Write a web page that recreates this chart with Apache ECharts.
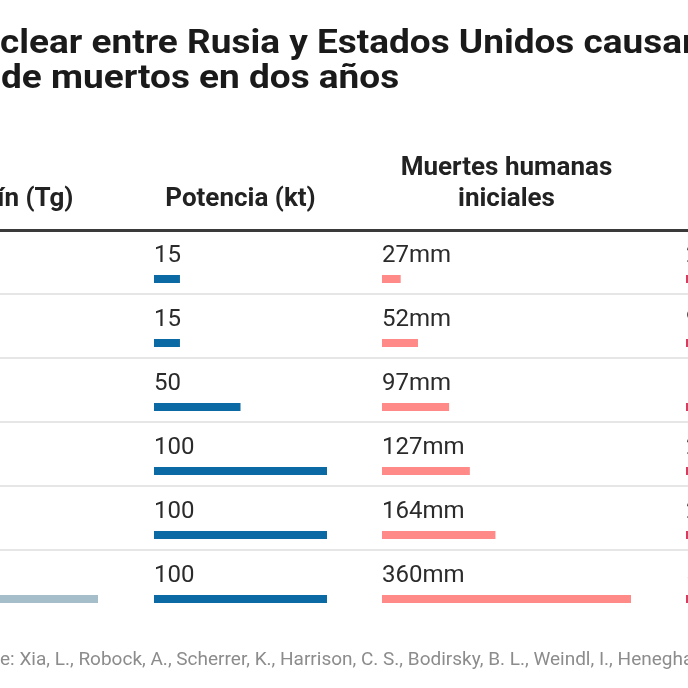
<!DOCTYPE html>
<html>
<head>
<meta charset="utf-8">
<script src="https://cdn.jsdelivr.net/npm/echarts@6/dist/echarts.min.js"></script>
<style>
html, body { margin: 0; padding: 0; background: #fff; }
#chart { width: 688px; height: 688px; }
</style>
</head>
<body>
<div id="chart"></div>
<script>
// escenarios (filas) y valores de cada columna
var escenarios = ['5 Tg', '16 Tg', '27 Tg', '37 Tg', '47 Tg', '150 Tg'];
var hollin = [5, 16, 27, 37, 47, 150];
var potencia = [15, 15, 50, 100, 100, 100];
var muertesIniciales = [27, 52, 97, 127, 164, 360];
var muertesHambruna = [255, 926, 1426, 2081, 2512, 5341];

var titulo1 = 'Una guerra nuclear entre Rusia y Estados Unidos causaría 5.000';
var titulo2 = 'millones de muertos en dos años';
var fuente = 'Fuente: Xia, L., Robock, A., Scherrer, K., Harrison, C. S., Bodirsky, B. L., Weindl, I., Heneghan, R., Jägermeyr, J., Bardeen, C. G. y Toon, O. B. (2022)';

var FUENTE = 'Roboto';

// medir texto para colocar lo que queda recortado a la izquierda
var ctx = document.createElement('canvas').getContext('2d');
function ancho(txt, font) {
	ctx.font = font;
	return ctx.measureText(txt).width;
}

function miles(v) {
	return String(v).replace(/\B(?=(\d{3})+(?!\d))/g, '.');
}

var columnas = [
	{nombre: 'Hollín (Tg)', datos: hollin, color: '#a6bdca', left: -74, width: 172, max: 150, fmt: function (v) { return v; }},
	{nombre: 'Potencia (kt)', datos: potencia, color: '#0b69a3', left: 154, width: 173, max: 100, fmt: function (v) { return v; }},
	{nombre: 'Muertes humanas\niniciales', datos: muertesIniciales, color: '#ff8a87', left: 382, width: 249, max: 360, fmt: function (v) { return v + 'mm'; }},
	{nombre: 'Muertes por\nhambruna', datos: muertesHambruna, color: '#dc3a5c', left: 686, width: 300, max: 5341, fmt: function (v) { return miles(v) + 'mm'; }}
];

var myChart = echarts.init(document.getElementById('chart'));

var grids = [], xAxes = [], yAxes = [], series = [];

// rejilla de fondo: línea de cabecera y separadores de filas
grids.push({left: -10, right: -10, top: 230, height: 384, outerBoundsMode: 'none', containLabel: false});
xAxes.push({
	gridIndex: 0, type: 'value', position: 'top',
	axisLine: {show: true, lineStyle: {color: '#3a3a3a', width: 3}},
	axisTick: {show: false}, axisLabel: {show: false}, splitLine: {show: false}
});
yAxes.push({
	gridIndex: 0, type: 'category', data: escenarios, inverse: true,
	axisLine: {show: false}, axisTick: {show: false}, axisLabel: {show: false},
	splitLine: {show: true, showMinLine: false, showMaxLine: false, lineStyle: {color: '#e6e6e6', width: 2}}
});

columnas.forEach(function (col, i) {
	var g = i + 1;
	grids.push({left: col.left, width: col.width, top: 247, height: 384, outerBoundsMode: 'none', containLabel: false});
	xAxes.push({
		gridIndex: g, type: 'value', position: 'top', min: 0, max: col.max,
		name: col.nombre, nameLocation: 'middle', nameGap: 32,
		nameTextStyle: {
			fontFamily: FUENTE, fontWeight: 'bold', fontSize: 26, color: '#222',
			lineHeight: 31, verticalAlign: 'bottom', align: 'center'
		},
		axisLine: {show: false}, axisTick: {show: false}, axisLabel: {show: false}, splitLine: {show: false}
	});
	yAxes.push({
		gridIndex: g, type: 'category', data: escenarios, inverse: true,
		axisLine: {show: false}, axisTick: {show: false}, axisLabel: {show: false}, splitLine: {show: false}
	});
	series.push({
		type: 'bar',
		xAxisIndex: g,
		yAxisIndex: g,
		data: col.datos,
		barWidth: 8,
		itemStyle: {color: col.color},
		label: {
			show: true,
			position: [0, -19],
			align: 'left',
			verticalAlign: 'middle',
			fontFamily: FUENTE,
			fontSize: 24,
			color: '#2b2b2b',
			formatter: function (p) { return col.fmt(p.value); }
		},
		silent: true
	});
});

var fontTitulo = 'bold 33px ' + FUENTE;
var escalaTitulo = 1.12;
var fontFuente = '19px ' + FUENTE;

myChart.setOption({
	animation: false,
	backgroundColor: '#fff',
	title: [
		{
			text: fuente,
			left: -ancho('Fuent', fontFuente),
			top: 651,
			padding: 0,
			textStyle: {fontFamily: FUENTE, fontWeight: 'normal', fontSize: 19, color: '#8c8c8c'}
		}
	],
	graphic: [
		{
			type: 'text',
			x: -ancho('Una guerra nu', fontTitulo) * escalaTitulo,
			y: 45,
			scaleX: escalaTitulo,
			style: {text: titulo1, font: fontTitulo, fill: '#1a1a1a', verticalAlign: 'middle', align: 'left'}
		},
		{
			type: 'text',
			x: 1 - ancho('millones ', fontTitulo) * escalaTitulo,
			y: 80,
			scaleX: escalaTitulo,
			style: {text: titulo2, font: fontTitulo, fill: '#1a1a1a', verticalAlign: 'middle', align: 'left'}
		}
	],
	grid: grids,
	xAxis: xAxes,
	yAxis: yAxes,
	series: series
});
</script>
</body>
</html>
